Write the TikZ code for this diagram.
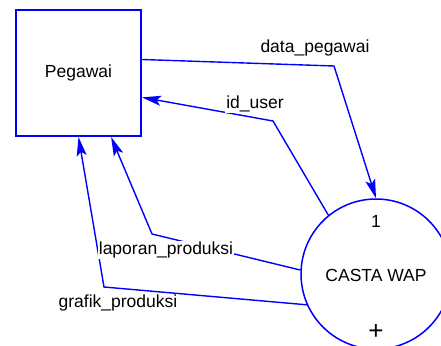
\documentclass[tikz,border=0pt]{standalone}
\usepackage{fontspec}
\setmainfont{Liberation Sans}
\usetikzlibrary{arrows.meta}
\begin{document}
\begin{tikzpicture}[x=1pt,y=-1pt,font=\fontsize{17.5}{20}\selectfont,
  flow/.style={draw=blue,line width=1.4pt,-{Stealth[length=19pt,width=10pt,inset=4pt]}},
  lbl/.style={fill=white,inner sep=1pt}]
\useasboundingbox (0,0) rectangle (441,345);
\clip (0,0) rectangle (441,345);
\node[draw=blue,line width=2pt,minimum width=125pt,minimum height=126pt] (pegawai) at (78.5,73) {Pegawai};
\node[draw=blue,line width=1.5pt,circle,minimum size=150pt] (casta) at (376,274) {};
\node (nomor) at (376,221) {1};
\node (nama) at (376,275) {CASTA WAP};
\node[font=\fontsize{26}{28}\selectfont] (plus) at (376,332) {+};
% bend points
\coordinate (b1) at (334,66);
\coordinate (b2) at (273,121);
\coordinate (b3) at (152,234);
\coordinate (b4) at (104,287);
% flows
\draw[flow] (pegawai.12.6) -- (b1) -- (casta.north);
\draw[flow] (casta.129.6) -- (b2) -- (pegawai.-21);
\draw[flow] (casta.177) -- (b3) -- (pegawai.-63.4);
\draw[flow] (casta.-156) -- (b4) -- (pegawai.-90.5);
% labels
\node[lbl] (lpeg) at (315,48) {data\_pegawai};
\node[lbl] (luser) at (255,104) {id\_user};
\node[lbl] (llap) at (166,250) {laporan\_produksi};
\node[lbl] (lgraf) at (118,303) {grafik\_produksi};
\end{tikzpicture}
\end{document}
